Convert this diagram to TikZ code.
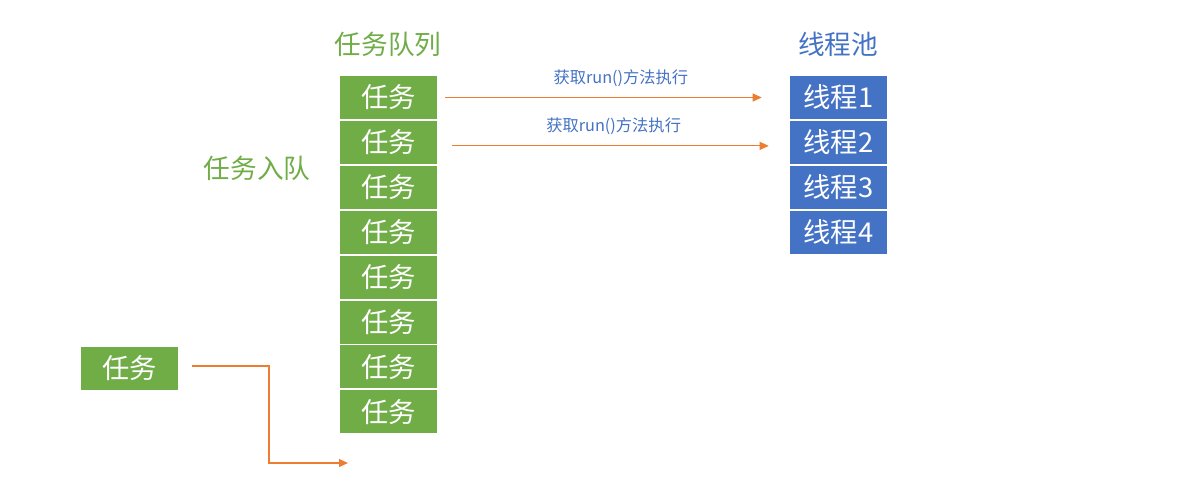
\documentclass[tikz,border=0pt]{standalone}
\usepackage{fontspec}
\setmainfont{Noto Sans CJK SC}
\usetikzlibrary{arrows.meta,positioning}

\definecolor{taskgreen}{RGB}{112,173,71}
\definecolor{poolblue}{RGB}{68,114,196}
\definecolor{flowor}{RGB}{237,125,49}

\begin{document}
\begin{tikzpicture}[x=0.75pt,y=-0.75pt,
    box/.style={text=white, minimum width=72.75pt, minimum height=32.25pt, inner sep=0pt, font=\fontsize{20.5}{24}\selectfont},
    task/.style={box, fill=taskgreen},
    thread/.style={box, fill=poolblue},
    title/.style={font=\fontsize{20}{24}\selectfont, inner sep=0pt},
    flow/.style={draw=flowor, line width=0.8pt, -{Triangle[length=6.75pt,width=6pt]}},
    lbl/.style={text=poolblue, font=\fontsize{12.2}{14}\selectfont, inner sep=0pt}]

      % Definitions
      \def\pitch{44.9}   % Distance between two boxes of a column
      \def\ytop{97.5}    % Centre of the first box

      \useasboundingbox (0,0) rectangle (1184,490);

      % Task queue and thread pool
      \foreach \i in {1,...,8}
        \node [task] (q\i) at (388.5, {\ytop+(\i-1)*\pitch}) {任务};
      \foreach \i in {1,...,4}
        \node [thread] (t\i) at (838.5, {\ytop+(\i-1)*\pitch}) {线程\i};

      \node [title, text=taskgreen] (qtitle) at (388,44) {任务队列};
      \node [title, text=poolblue] (ttitle) at (838,44) {线程池};
      \node [title, text=taskgreen] (enqtitle) at (257,168) {任务入队};

      % New task waiting outside
      \node [task] (lone) at (129.5,368.5) {任务};
      \coordinate (enq) at (348,463);

      % Draw commands
      \draw [flow] ([xshift=6pt]q1.east) -- node [lbl, pos=0.555, above=8pt] {获取run()方法执行} ([xshift=-21pt]t1.west);
      \draw [flow] ([xshift=11.25pt,yshift=-2.6pt]q2.east) -- node [lbl, pos=0.51, above=8pt] {获取run()方法执行} ([xshift=-15.75pt,yshift=-2.6pt]t2.west);
      \draw [flow] ([xshift=10.5pt,yshift=1.9pt]lone.east) -| ([xshift=-59.25pt]enq) -- (enq);

   \end{tikzpicture}
\end{document}
